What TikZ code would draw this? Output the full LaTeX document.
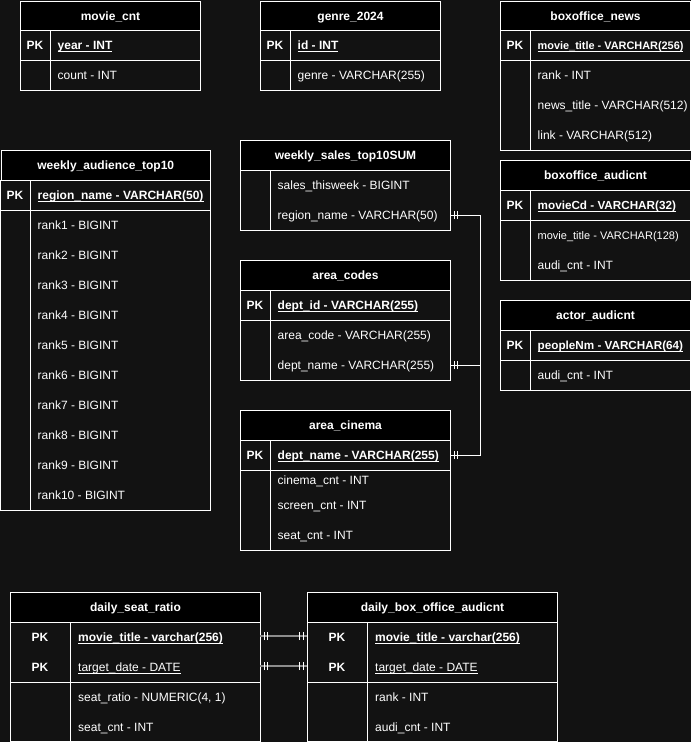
\documentclass[tikz,border=0pt]{standalone}
\usepackage{fontspec}
\setmainfont{Liberation Sans}
\usetikzlibrary{decorations.markings}
\definecolor{bg}{RGB}{18,18,18}
\definecolor{lnk}{RGB}{140,140,140}
\newcommand{\uln}[1]{\underline{\smash{#1}}}
\newcommand{\pkf}[1]{\uln{\textbf{#1}}}
\begin{document}
\begin{tikzpicture}[x=1pt,y=-1pt,
  every node/.style={text=white,inner sep=0pt,font=\fontsize{12}{14}\selectfont,text height=8.8pt,text depth=0pt},
  ln/.style={draw=white,line width=1pt},
  tbl/.style={draw=white,line width=1pt,fill=bg},
  hdr/.style={draw=white,line width=1pt,fill=black,anchor=north west,minimum height=30pt,font=\fontsize{12}{14}\selectfont\bfseries},
  pk/.style={font=\fontsize{12}{14}\selectfont\bfseries},
  fld/.style={anchor=west},
  conn/.style={draw=white,line width=1pt},
  glink/.style={draw=lnk,line width=2pt},
  bars start/.style={postaction={decorate,decoration={markings,
     mark=at position 4pt with {\draw[white,line width=1pt] (0,-4pt) -- (0,4pt);},
     mark=at position 7.5pt with {\draw[white,line width=1pt] (0,-4pt) -- (0,4pt);}}}},
  bars end/.style={postaction={decorate,decoration={markings,
     mark=at position -4pt with {\draw[white,line width=1pt] (0,-4pt) -- (0,4pt);},
     mark=at position -7.5pt with {\draw[white,line width=1pt] (0,-4pt) -- (0,4pt);}}}}
]
\fill[bg] (0,0) rectangle (691,742);
\useasboundingbox (0,0) rectangle (691,742);

% movie_cnt
\draw[tbl] (20,30) rectangle (200,90);
\draw[ln] (50,30) -- (50,90); \draw[ln] (20,60) -- (200,60);
\node[hdr,minimum width=180pt,minimum height=29.5pt] (mc) at (20,0.5) {movie\_cnt};
\node[pk] (mc-pk) at (35,45) {PK};
\node[fld] (mc-f1) at (57.5,45) {\pkf{year - INT}};
\node[fld] (mc-f2) at (57.5,75) {count - INT};

% genre_2024
\draw[tbl] (260,30) rectangle (440,90);
\draw[ln] (290,30) -- (290,90); \draw[ln] (260,60) -- (440,60);
\node[hdr,minimum width=180pt,minimum height=29.5pt] (gn) at (260,0.5) {genre\_2024};
\node[pk] (gn-pk) at (275,45) {PK};
\node[fld] (gn-f1) at (297.5,45) {\pkf{id - INT}};
\node[fld] (gn-f2) at (297.5,75) {genre - VARCHAR(255)};

% boxoffice_news
\draw[tbl] (500,30) rectangle (690,150);
\draw[ln] (530,30) -- (530,150); \draw[ln] (500,60) -- (690,60);
\node[hdr,minimum width=190pt,minimum height=29.5pt] (bn) at (500,0.5) {boxoffice\_news};
\node[pk] (bn-pk) at (515,45) {PK};
\node[fld,font=\fontsize{10.9}{13}\selectfont] (bn-f1) at (537.5,45) {\pkf{movie\_title - VARCHAR(256)}};
\node[fld] (bn-f2) at (537.5,75) {rank - INT};
\node[fld] (bn-f3) at (537.5,105) {news\_title - VARCHAR(512)};
\node[fld] (bn-f4) at (537.5,135) {link - VARCHAR(512)};

% boxoffice_audicnt
\draw[tbl] (500,190) rectangle (690,280);
\draw[ln] (530,190) -- (530,280); \draw[ln] (500,220) -- (690,220);
\node[hdr,minimum width=190pt] (ba) at (500,160) {boxoffice\_audicnt};
\node[pk] (ba-pk) at (515,205) {PK};
\node[fld,font=\fontsize{11.7}{13}\selectfont] (ba-f1) at (537.5,205) {\pkf{movieCd - VARCHAR(32)}};
\node[fld,font=\fontsize{11}{13}\selectfont] (ba-f2) at (537.5,235) {movie\_title - VARCHAR(128)};
\node[fld] (ba-f3) at (537.5,265) {audi\_cnt - INT};

% actor_audicnt
\draw[tbl] (500,330) rectangle (690,390);
\draw[ln] (530,330) -- (530,390); \draw[ln] (500,360) -- (690,360);
\node[hdr,minimum width=190pt] (aa) at (500,300) {actor\_audicnt};
\node[pk] (aa-pk) at (515,345) {PK};
\node[fld,font=\fontsize{11.7}{13}\selectfont] (aa-f1) at (537.5,345) {\pkf{peopleNm - VARCHAR(64)}};
\node[fld] (aa-f2) at (537.5,375) {audi\_cnt - INT};

% weekly_audience_top10
\draw[tbl] (0.5,180) rectangle (210,510);
\draw[ln] (30,180) -- (30,510); \draw[ln] (0.5,210) -- (210,210);
\node[hdr,minimum width=209.5pt] (wa) at (0.5,150) {weekly\_audience\_top10};
\node[pk] (wa-pk) at (15,195) {PK};
\node[fld] (wa-f0) at (37.5,195) {\pkf{region\_name - VARCHAR(50)}};
\foreach \i in {1,...,10} {
  \node[fld] (wa-f\i) at (37.5,{195+30*\i}) {rank\i\ - BIGINT};
}

% weekly_sales_top10SUM
\draw[tbl] (240,170) rectangle (450,230);
\draw[ln] (270,170) -- (270,230);
\node[hdr,minimum width=210pt] (ws) at (240,140) {weekly\_sales\_top10SUM};
\node[fld] (ws-f1) at (277.5,185) {sales\_thisweek - BIGINT};
\node[fld] (ws-f2) at (277.5,215) {region\_name - VARCHAR(50)};

% area_codes
\draw[tbl] (240,290) rectangle (450,380);
\draw[ln] (270,290) -- (270,380); \draw[ln] (240,320) -- (450,320);
\node[hdr,minimum width=210pt] (ac) at (240,260) {area\_codes};
\node[pk] (ac-pk) at (255,305) {PK};
\node[fld] (ac-f1) at (277.5,305) {\pkf{dept\_id - VARCHAR(255)}};
\node[fld] (ac-f2) at (277.5,335) {area\_code - VARCHAR(255)};
\node[fld] (ac-f3) at (277.5,365) {dept\_name - VARCHAR(255)};

% area_cinema
\draw[tbl] (240,440) rectangle (450,550);
\draw[ln] (270,440) -- (270,550); \draw[ln] (240,470) -- (450,470);
\node[hdr,minimum width=210pt] (cn) at (240,410) {area\_cinema};
\node[pk] (cn-pk) at (255,455) {PK};
\node[fld] (cn-f1) at (277.5,455) {\pkf{dept\_name - VARCHAR(255)}};
\node[fld] (cn-f2) at (277.5,480) {cinema\_cnt - INT};
\node[fld] (cn-f3) at (277.5,505) {screen\_cnt - INT};
\node[fld] (cn-f4) at (277.5,535) {seat\_cnt - INT};

% daily_seat_ratio
\draw[tbl] (10,622) rectangle (260,741.5);
\draw[ln] (70,622) -- (70,741.5); \draw[ln] (10,682) -- (260,682);
\node[hdr,minimum width=250pt] (ds) at (10,592) {daily\_seat\_ratio};
\node[pk] (ds-pk1) at (40,637) {PK};
\node[pk] (ds-pk2) at (40,667) {PK};
\node[fld] (ds-f1) at (78,637) {\pkf{movie\_title - varchar(256)}};
\node[fld] (ds-f2) at (78,667) {\uln{target\_date - DATE}};
\node[fld] (ds-f3) at (78,697) {seat\_ratio - NUMERIC(4, 1)};
\node[fld] (ds-f4) at (78,727) {seat\_cnt - INT};

% daily_box_office_audicnt
\draw[tbl] (307,622) rectangle (557,741.5);
\draw[ln] (367,622) -- (367,741.5); \draw[ln] (307,682) -- (557,682);
\node[hdr,minimum width=250pt] (db) at (307,592) {daily\_box\_office\_audicnt};
\node[pk] (db-pk1) at (337,637) {PK};
\node[pk] (db-pk2) at (337,667) {PK};
\node[fld] (db-f1) at (375,637) {\pkf{movie\_title - varchar(256)}};
\node[fld] (db-f2) at (375,667) {\uln{target\_date - DATE}};
\node[fld] (db-f3) at (375,697) {rank - INT};
\node[fld] (db-f4) at (375,727) {audi\_cnt - INT};

% connector end points
\coordinate (ws-e) at (450,215);
\coordinate (ac-e) at (450,365);
\coordinate (cn-e) at (450,455);
\coordinate (ds-e1) at (260,636);
\coordinate (ds-e2) at (260,666);
\coordinate (db-e1) at (307,636);
\coordinate (db-e2) at (307,666);

\draw[conn,bars start,bars end] (ws-e) -- ++(30,0) |- (cn-e);
\draw[conn,bars start] (ac-e) -- ++(30,0);
\draw[glink,bars start,bars end] (ds-e1) -- (db-e1);
\draw[glink,bars start,bars end] (ds-e2) -- (db-e2);
\end{tikzpicture}
\end{document}
